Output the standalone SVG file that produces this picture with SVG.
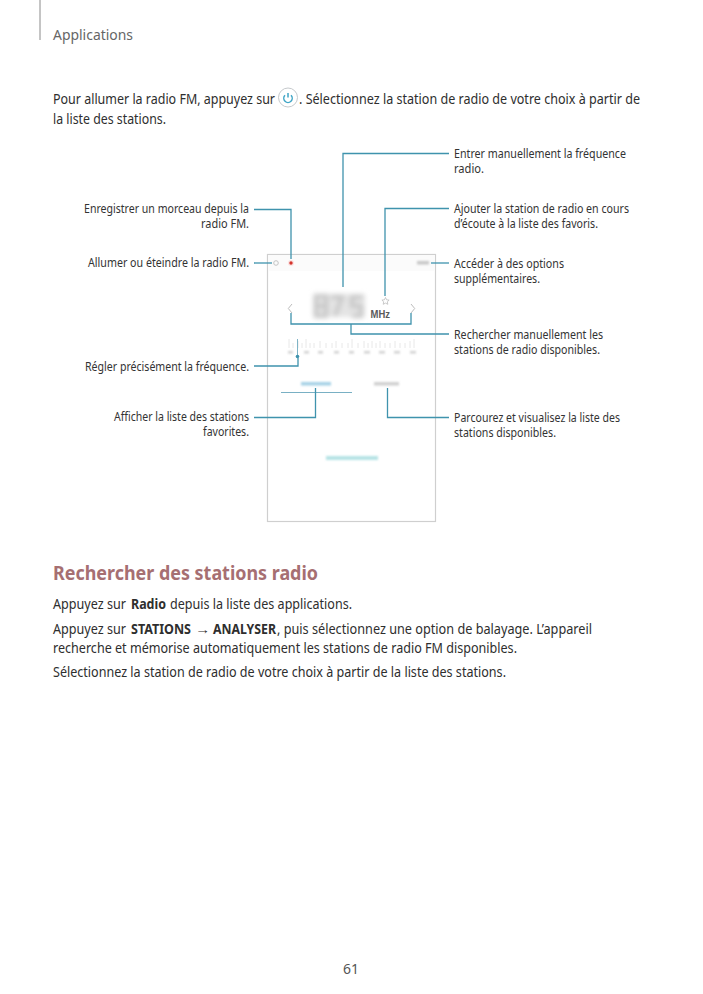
<svg xmlns="http://www.w3.org/2000/svg" width="703" height="994" viewBox="0 0 703 994">
<style>
text{font-family:"Noto Sans","Open Sans","Liberation Sans",sans-serif;fill:#2e2e2e;}
.b{font-size:13.5px}
.l{font-size:11.8px;fill:#333}
.e{text-anchor:end}
.h{font-size:20px;font-weight:700;fill:#a66f72}
.bo{font-weight:700}
.c{fill:none;stroke:#3f93ad;stroke-width:1.3}
</style>
<defs>
<filter id="bl" x="-30%" y="-30%" width="160%" height="160%"><feGaussianBlur stdDeviation="2.400"/></filter>
<filter id="bs" x="-30%" y="-80%" width="160%" height="260%"><feGaussianBlur stdDeviation="0.9"/></filter>
</defs>
<rect width="703" height="994" fill="#fff"/>
<path d="M40 0V40" stroke="#8a8a8a" stroke-width="1" fill="none"/>
<text id="header" x="53" y="40" font-size="14.500" style="fill:#666" textLength="80" lengthAdjust="spacingAndGlyphs">Applications</text>
<g id="intro">
<text class="b" x="53" y="104" textLength="222" lengthAdjust="spacingAndGlyphs">Pour allumer la radio FM, appuyez sur</text>
<circle cx="288" cy="97.500" r="9.500" fill="#fff" stroke="#c5c9cc" stroke-width="1"/>
<path d="M285 95.300A4.200 4.200 0 1 0 291 95.300M288 93V97.500" fill="none" stroke="#3fa5c6" stroke-width="1.500"/>
<text class="b" x="299" y="104" textLength="341" lengthAdjust="spacingAndGlyphs">. Sélectionnez la station de radio de votre choix à partir de</text>
<text class="b" x="53" y="124" textLength="113" lengthAdjust="spacingAndGlyphs">la liste des stations.</text>
</g>
<g id="phone">
<rect x="267.500" y="254.500" width="168" height="267" fill="#fff" stroke="#cfcfcf" stroke-width="1.200"/>
<rect x="268" y="255" width="167" height="16" fill="#fbfbfb"/>
<circle cx="276" cy="263" r="2.300" fill="none" stroke="#c4c4c4"/>
<circle cx="291" cy="263" r="3" fill="#fbe3e3"/>
<circle cx="291" cy="263" r="1.700" fill="#d4342c"/>
<rect x="417" y="261" width="12" height="3.500" fill="#c8c8c8" filter="url(#bs)"/>
<g filter="url(#bl)">
<rect x="313" y="294" width="52" height="23" fill="#e4e4e4"/>
<path d="M316 296h10v20h-10zM316 306h10M331 297h11l-7 19M352 316h9v-10h-9v-9h11" fill="none" stroke="#c6c6c6" stroke-width="4"/>
</g>
<text x="370.500" y="318" font-size="10.500" font-weight="700" style="font-family:'Liberation Sans',sans-serif;fill:#5a5a5a" textLength="19.500" lengthAdjust="spacingAndGlyphs">MHz</text>
<path d="M385.500 297.500l1.100 2.300 2.500.3-1.800 1.700.5 2.500-2.300-1.200-2.300 1.200.5-2.500-1.800-1.700 2.500-.3z" fill="#fff" stroke="#b5b5b5" stroke-width=".7"/>
<path d="M292 304l-3.700 4.500 3.700 4.500M411 304l3.700 4.500-3.700 4.500" fill="none" stroke="#bcbcbc" stroke-width="1"/>
<path d="M289 339v9M293 343v5M298 341v7M302 343v5M306 339v9M310 343v5M314 343v5M320 341v7M326 343v5M332 343v5M336 341v7M342 343v5M348 343v5M352 339v9M358 343v5M364 341v7M368 343v5M372 341v7M376 343v5M380 341v7M385 343v5M390 343v5M395 341v7M400 343v5M405 343v5M410 341v7M414 339v9" stroke="#e2e2e2" stroke-width=".8" fill="none"/>
<g fill="#d2d2d2" filter="url(#bs)">
<rect x="288" y="351" width="5" height="2.500"/><rect x="304" y="351" width="5" height="2.500"/><rect x="318" y="351" width="5" height="2.500"/><rect x="334" y="351" width="5" height="2.500"/><rect x="349" y="351" width="5" height="2.500"/><rect x="364" y="351" width="6" height="2.500"/><rect x="379" y="351" width="6" height="2.500"/><rect x="394" y="351" width="6" height="2.500"/><rect x="410" y="351" width="6" height="2.500"/>
</g>
<path d="M297.500 339V357" stroke="#7fb4c6" stroke-width="1"/>
<circle cx="297.500" cy="356.500" r="1.800" fill="#3f93ad"/>
<rect x="301" y="382" width="30" height="3.500" fill="#a6d2e6" filter="url(#bs)"/>
<rect x="374" y="382" width="25" height="3.500" fill="#d0d0d0" filter="url(#bs)"/>
<path d="M281 392.500H352" stroke="#79b0c4" stroke-width="1"/>
<rect x="326" y="456" width="52" height="4" fill="#b6e3e5" filter="url(#bs)"/>
</g>
<g id="connectors">
<path class="c" d="M343 287V153.500H449"/>
<path class="c" d="M385 296V208.500H449"/>
<path class="c" d="M254 209.500H291V259"/>
<path class="c" d="M254 263H272"/>
<path class="c" d="M431 263H449"/>
<path class="c" d="M291 313V324H411V313"/>
<path class="c" d="M351 324V334H449"/>
<path class="c" d="M254 366H298V358"/>
<path class="c" d="M254 417.500H315.500V388"/>
<path class="c" d="M387.500 388V417.500H449"/>
</g>
<g id="label-entrer"><text class="l" x="454" y="158" textLength="172" lengthAdjust="spacingAndGlyphs">Entrer manuellement la fréquence</text><text class="l" x="454" y="173" textLength="30" lengthAdjust="spacingAndGlyphs">radio.</text></g>
<g id="label-enregistrer"><text class="l e" x="249" y="213" textLength="165" lengthAdjust="spacingAndGlyphs">Enregistrer un morceau depuis la</text><text class="l e" x="249" y="228" textLength="48" lengthAdjust="spacingAndGlyphs">radio FM.</text></g>
<g id="label-ajouter"><text class="l" x="454" y="213" textLength="175" lengthAdjust="spacingAndGlyphs">Ajouter la station de radio en cours</text><text class="l" x="454" y="228" textLength="144" lengthAdjust="spacingAndGlyphs">d’écoute à la liste des favoris.</text></g>
<g id="label-allumer"><text class="l e" x="249" y="267" textLength="161" lengthAdjust="spacingAndGlyphs">Allumer ou éteindre la radio FM.</text></g>
<g id="label-acceder"><text class="l" x="454" y="267.500" textLength="110" lengthAdjust="spacingAndGlyphs">Accéder à des options</text><text class="l" x="454" y="282.500" textLength="86" lengthAdjust="spacingAndGlyphs">supplémentaires.</text></g>
<g id="label-rechercher"><text class="l" x="454" y="338.500" textLength="149" lengthAdjust="spacingAndGlyphs">Rechercher manuellement les</text><text class="l" x="454" y="353.500" textLength="146" lengthAdjust="spacingAndGlyphs">stations de radio disponibles.</text></g>
<g id="label-regler"><text class="l e" x="249" y="370.500" textLength="164" lengthAdjust="spacingAndGlyphs">Régler précisément la fréquence.</text></g>
<g id="label-afficher"><text class="l e" x="249" y="420.500" textLength="135" lengthAdjust="spacingAndGlyphs">Afficher la liste des stations</text><text class="l e" x="249" y="435.500" textLength="46" lengthAdjust="spacingAndGlyphs">favorites.</text></g>
<g id="label-parcourez"><text class="l" x="454" y="422" textLength="166" lengthAdjust="spacingAndGlyphs">Parcourez et visualisez la liste des</text><text class="l" x="454" y="437" textLength="102" lengthAdjust="spacingAndGlyphs">stations disponibles.</text></g>
<g id="section">
<text class="h" x="53" y="580" textLength="265" lengthAdjust="spacingAndGlyphs">Rechercher des stations radio</text>
<text class="b" x="53" y="609" textLength="73" lengthAdjust="spacingAndGlyphs">Appuyez sur</text>
<text class="b bo" x="131" y="609" textLength="35" lengthAdjust="spacingAndGlyphs">Radio</text>
<text class="b" x="170" y="609" textLength="182" lengthAdjust="spacingAndGlyphs">depuis la liste des applications.</text>
<text class="b" x="53" y="634" textLength="73" lengthAdjust="spacingAndGlyphs">Appuyez sur</text>
<text class="b bo" x="131" y="634" textLength="60" lengthAdjust="spacingAndGlyphs">STATIONS</text>
<text class="b" x="195" y="634" textLength="15" lengthAdjust="spacingAndGlyphs">→</text>
<text class="b bo" x="213" y="634" textLength="63" lengthAdjust="spacingAndGlyphs">ANALYSER</text>
<text class="b" x="277" y="634" textLength="315" lengthAdjust="spacingAndGlyphs">, puis sélectionnez une option de balayage. L’appareil</text>
<text class="b" x="53" y="653" textLength="464" lengthAdjust="spacingAndGlyphs">recherche et mémorise automatiquement les stations de radio FM disponibles.</text>
<text class="b" x="53" y="677" textLength="453" lengthAdjust="spacingAndGlyphs">Sélectionnez la station de radio de votre choix à partir de la liste des stations.</text>
</g>
<text id="page" x="351" y="974" font-size="14.500" text-anchor="middle" style="fill:#555" textLength="16" lengthAdjust="spacingAndGlyphs">61</text>
</svg>
